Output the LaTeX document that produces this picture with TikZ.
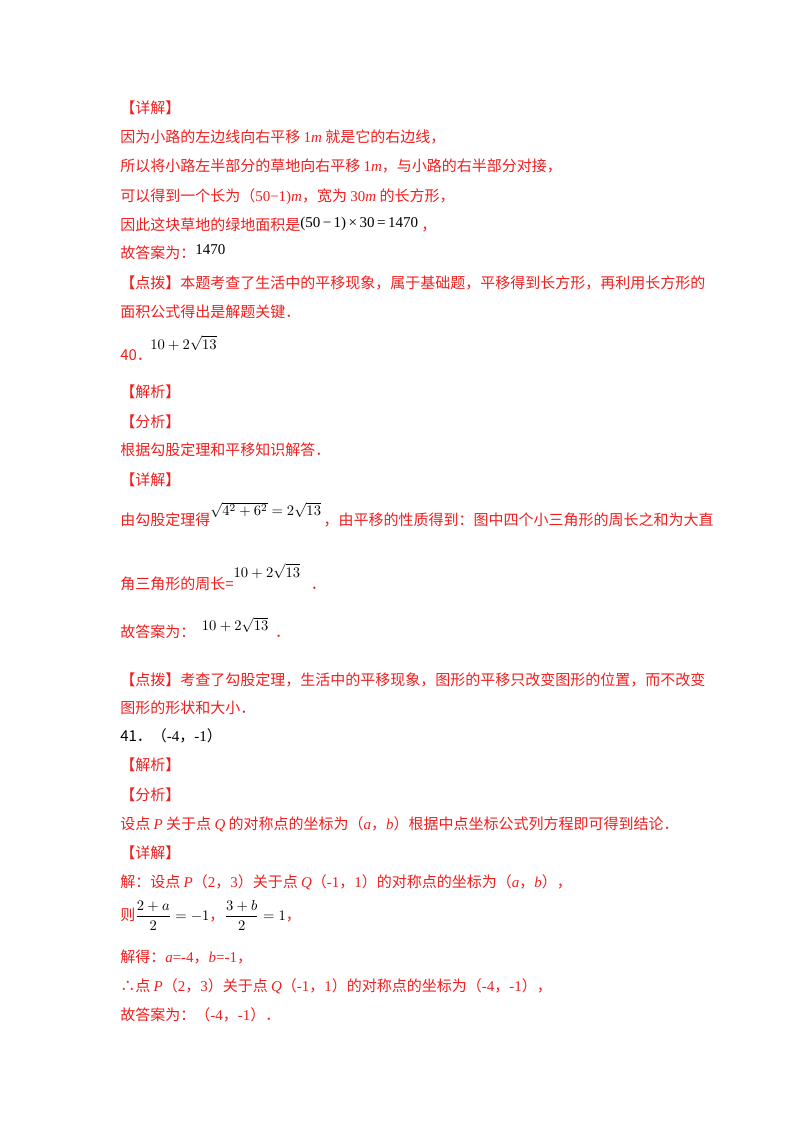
\documentclass[tikz,border=0pt]{standalone}
\usepackage{amsmath}
\usepackage{fontspec}
\setmainfont{Noto Sans CJK SC}
\newfontfamily\tm{Liberation Serif}
\newcommand\T[1]{{\tm #1}}
\newcommand\I[1]{{\tm\itshape #1}}
\definecolor{txtred}{RGB}{240,30,30}
\begin{document}
\begin{tikzpicture}[x=0.75pt,y=-0.75pt,
  ln/.style={anchor=base west,inner sep=0pt,text=txtred,font=\fontsize{11.25pt}{13pt}\selectfont},
  fm/.style={anchor=base west,inner sep=0pt,text=black,font=\fontsize{11.25pt}{13pt}\selectfont}]
\useasboundingbox (0,0) rectangle (800,1132);
\node[ln] (a1) at (120,113) {【详解】};
\node[ln] (a2) at (120,142) {因为小路的左边线向右平移 \T{1}\I{m} 就是它的右边线，};
\node[ln] (a3) at (120,171) {所以将小路左半部分的草地向右平移 \T{1}\I{m}，与小路的右半部分对接，};
\node[ln] (a4) at (120,201) {可以得到一个长为（\T{50−1)}\I{m}，宽为 \T{30}\I{m} 的长方形，};
\node[ln] (a5) at (120,230) {因此这块草地的绿地面积是\textcolor{black}{\raisebox{2pt}{\T{(50\,−\,1)\,×\,30\,=\,1470}}} ，};
\node[ln] (a6) at (120,258) {故答案为：\textcolor{black}{\raisebox{3pt}{\T{1470}}}};
\node[ln] (a7) at (120,288) {【点拨】本题考查了生活中的平移现象，属于基础题，平移得到长方形，再利用长方形的};
\node[ln] (a8) at (120,317) {面积公式得出是解题关键．};
\node[ln] (b0) at (120,360) {40．};
\node[fm] (b1) at (150,349) {$10+2\sqrt{13}$};
\node[ln] (b2) at (120,397) {【解析】};
\node[ln] (b3) at (120,427) {【分析】};
\node[ln] (b4) at (120,455) {根据勾股定理和平移知识解答．};
\node[ln] (b5) at (120,485) {【详解】};
\node[ln] (b6) at (120,525) {由勾股定理得\textcolor{black}{\raisebox{7pt}{$\sqrt{4^2+6^2}=2\sqrt{13}$}}\,，由平移的性质得到：图中四个小三角形的周长之和为大直};
\node[ln] (b7) at (120,589) {角三角形的周长=\textcolor{black}{\raisebox{9pt}{$10+2\sqrt{13}$}}\hspace{8pt}．};
\node[ln] (b8) at (120,637) {故答案为：\hspace{5pt}\textcolor{black}{\raisebox{5pt}{$10+2\sqrt{13}$}}\hspace{5pt}．};
\node[ln] (b9) at (120,685) {【点拨】考查了勾股定理，生活中的平移现象，图形的平移只改变图形的位置，而不改变};
\node[ln] (b10) at (120,713) {图形的形状和大小．};
\node[fm] (c0) at (120,741) {41．（\T{-4}，\T{-1}）};
\node[ln] (c1) at (120,770) {【解析】};
\node[ln] (c2) at (120,800) {【分析】};
\node[ln] (c3) at (120,829) {设点 \I{P} 关于点 \I{Q} 的对称点的坐标为（\I{a}，\I{b}）根据中点坐标公式列方程即可得到结论．};
\node[ln] (c4) at (120,858) {【详解】};
\node[ln] (c5) at (120,887) {解：设点 \I{P}（\T{2}，\T{3}）关于点 \I{Q}（\T{-1}，\T{1}）的对称点的坐标为（\I{a}，\I{b}），};
\node[ln] (c6) at (120,920) {则\textcolor{black}{$\dfrac{2+a}{2}=-1$}，\textcolor{black}{$\dfrac{3+b}{2}=1$}，};
\node[ln] (c7) at (120,962) {解得：\I{a}\T{=-4}，\I{b}\T{=-1}，};
\node[ln] (c8) at (120,991) {∴点 \I{P}（\T{2}，\T{3}）关于点 \I{Q}（\T{-1}，\T{1}）的对称点的坐标为（\T{-4}，\T{-1}），};
\node[ln] (c9) at (120,1020) {故答案为：（\T{-4}，\T{-1}）．};
\end{tikzpicture}
\end{document}
